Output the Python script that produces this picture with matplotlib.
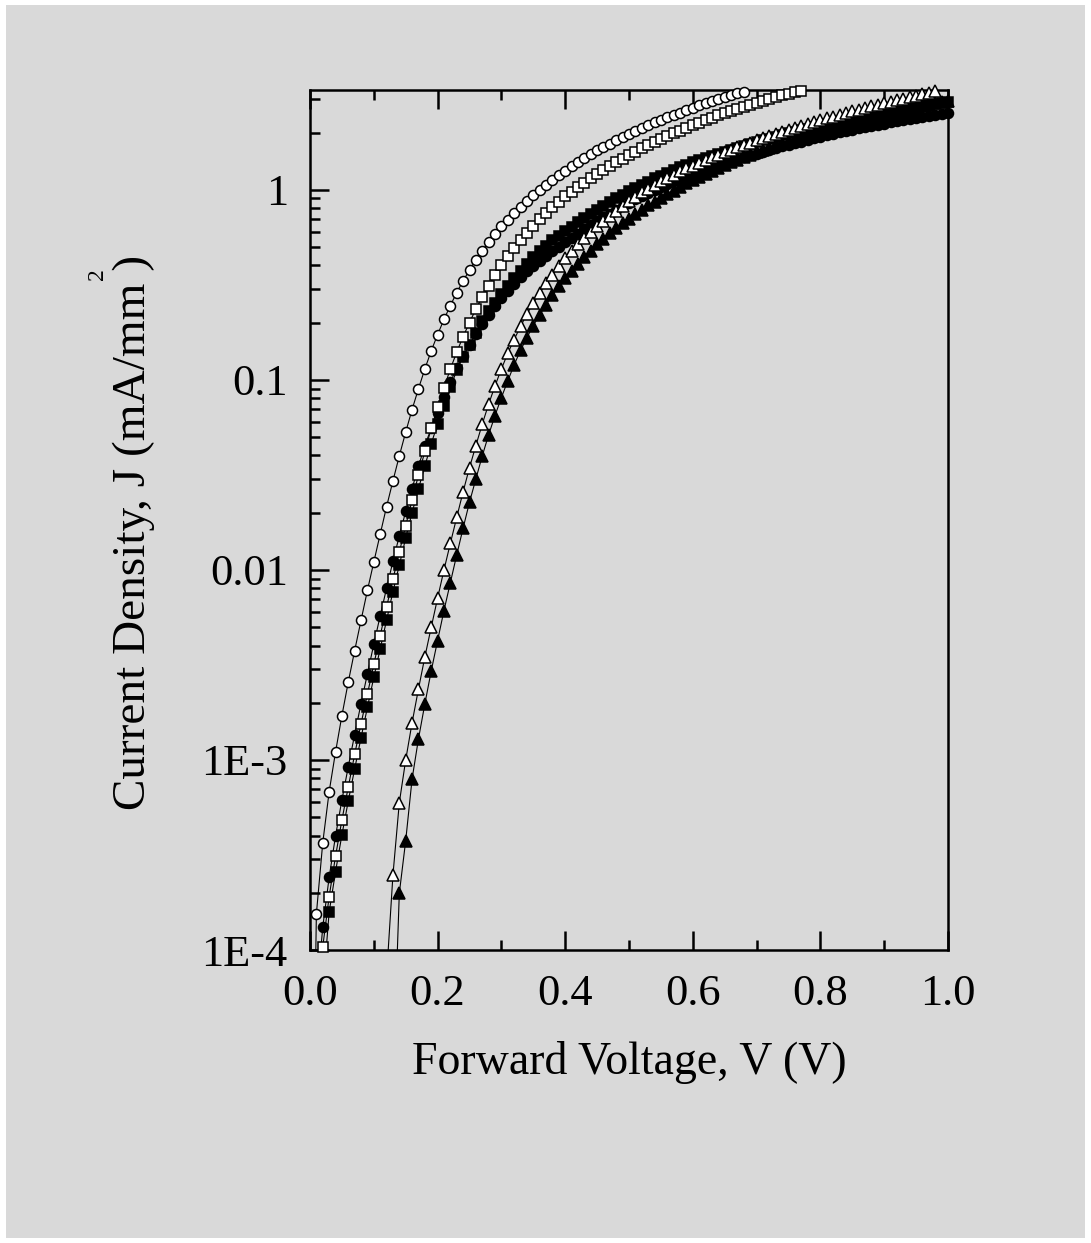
import numpy as np
import matplotlib.pyplot as plt
from matplotlib.patches import Rectangle
from matplotlib.ticker import MultipleLocator, LogLocator, NullFormatter, FormatStrFormatter

plt.rcParams['font.family'] = ['Liberation Serif', 'DejaVu Serif']

# forward voltage sweep (V)
volts = [0.00, 0.01, 0.02, 0.03, 0.04, 0.05, 0.06, 0.07, 0.08, 0.09,
         0.10, 0.11, 0.12, 0.13, 0.14, 0.15, 0.16, 0.17, 0.18, 0.19,
         0.20, 0.21, 0.22, 0.23, 0.24, 0.25, 0.26, 0.27, 0.28, 0.29,
         0.30, 0.31, 0.32, 0.33, 0.34, 0.35, 0.36, 0.37, 0.38, 0.39,
         0.40, 0.41, 0.42, 0.43, 0.44, 0.45, 0.46, 0.47, 0.48, 0.49,
         0.50, 0.51, 0.52, 0.53, 0.54, 0.55, 0.56, 0.57, 0.58, 0.59,
         0.60, 0.61, 0.62, 0.63, 0.64, 0.65, 0.66, 0.67, 0.68, 0.69,
         0.70, 0.71, 0.72, 0.73, 0.74, 0.75, 0.76, 0.77, 0.78, 0.79,
         0.80, 0.81, 0.82, 0.83, 0.84, 0.85, 0.86, 0.87, 0.88, 0.89,
         0.90, 0.91, 0.92, 0.93, 0.94, 0.95, 0.96, 0.97, 0.98, 0.99,
         1.00]

# current density (mA/mm^2), each curve starting at the voltage given below
j_open_circle = [1.0e-6, 1.55e-4, 3.67e-4, 6.8e-4, 1.10e-3, 1.71e-3, 2.57e-3, 3.76e-3, 5.43e-3, 7.8e-3,
                 0.0110, 0.0154, 0.0215, 0.0294, 0.0398, 0.0531, 0.0698, 0.0898, 0.114, 0.142,
                 0.173, 0.208, 0.246, 0.288, 0.332, 0.378, 0.429, 0.478, 0.531, 0.585,
                 0.641, 0.695, 0.753, 0.815, 0.875, 0.937, 1.00, 1.06, 1.13, 1.19,
                 1.26, 1.33, 1.40, 1.47, 1.54, 1.61, 1.68, 1.75, 1.83, 1.89,
                 1.97, 2.05, 2.11, 2.19, 2.26, 2.34, 2.41, 2.48, 2.55, 2.63,
                 2.70, 2.78, 2.86, 2.94, 3.01, 3.08, 3.15, 3.22, 3.28]

j_open_square = [4.5e-5, 1.04e-4, 1.91e-4, 3.11e-4, 4.83e-4, 7.21e-4, 1.07e-3, 1.55e-3, 2.22e-3,
                 3.18e-3, 4.51e-3, 6.37e-3, 8.93e-3, 0.0124, 0.0171, 0.0233, 0.0315, 0.0420, 0.0555,
                 0.0718, 0.0908, 0.114, 0.140, 0.169, 0.200, 0.236, 0.272, 0.313, 0.356,
                 0.403, 0.446, 0.493, 0.543, 0.591, 0.648, 0.702, 0.753, 0.807, 0.861,
                 0.922, 0.975, 1.03, 1.09, 1.15, 1.21, 1.27, 1.34, 1.40, 1.46,
                 1.53, 1.59, 1.66, 1.72, 1.78, 1.85, 1.92, 1.98, 2.05, 2.12,
                 2.19, 2.25, 2.33, 2.39, 2.46, 2.53, 2.60, 2.67, 2.73, 2.80,
                 2.87, 2.94, 3.01, 3.08, 3.14, 3.21, 3.27, 3.32]

j_filled_circle = [5.4e-5, 1.32e-4, 2.41e-4, 3.98e-4, 6.15e-4, 9.22e-4, 1.36e-3, 1.98e-3, 2.84e-3,
                   4.06e-3, 5.73e-3, 8.0e-3, 0.0111, 0.0151, 0.0203, 0.0268, 0.0350, 0.0451, 0.0555,
                   0.0673, 0.0817, 0.0975, 0.115, 0.134, 0.153, 0.174, 0.196, 0.220, 0.245,
                   0.270, 0.295, 0.321, 0.347, 0.372, 0.398, 0.424, 0.450, 0.475, 0.500,
                   0.529, 0.557, 0.588, 0.619, 0.651, 0.683, 0.716, 0.750, 0.785, 0.820,
                   0.854, 0.890, 0.927, 0.962, 0.999, 1.035, 1.071, 1.107, 1.143, 1.178,
                   1.212, 1.246, 1.280, 1.313, 1.347, 1.380, 1.414, 1.448, 1.482, 1.516,
                   1.550, 1.585, 1.620, 1.654, 1.690, 1.725, 1.759, 1.794, 1.829, 1.864,
                   1.899, 1.934, 1.968, 2.002, 2.036, 2.069, 2.103, 2.136, 2.169, 2.201,
                   2.232, 2.264, 2.295, 2.326, 2.355, 2.385, 2.413, 2.441, 2.468, 2.495,
                   2.521]

j_filled_square = [6.0e-5, 1.58e-4, 2.58e-4, 4.03e-4, 6.08e-4, 8.97e-4, 1.31e-3, 1.89e-3,
                   2.72e-3, 3.84e-3, 5.43e-3, 7.69e-3, 0.0106, 0.0147, 0.0200, 0.0267, 0.0352, 0.0460,
                   0.0587, 0.0730, 0.0915, 0.112, 0.132, 0.153, 0.176, 0.203, 0.229, 0.255,
                   0.283, 0.313, 0.344, 0.376, 0.408, 0.442, 0.475, 0.509, 0.542, 0.574,
                   0.607, 0.640, 0.675, 0.711, 0.747, 0.784, 0.822, 0.861, 0.901, 0.941,
                   0.981, 1.022, 1.064, 1.105, 1.147, 1.188, 1.230, 1.271, 1.312, 1.352,
                   1.392, 1.431, 1.470, 1.508, 1.546, 1.584, 1.623, 1.662, 1.701, 1.740,
                   1.780, 1.820, 1.860, 1.899, 1.940, 1.980, 2.020, 2.060, 2.100, 2.140,
                   2.180, 2.220, 2.259, 2.298, 2.337, 2.376, 2.414, 2.452, 2.490, 2.527,
                   2.563, 2.599, 2.635, 2.670, 2.704, 2.738, 2.770, 2.803, 2.834, 2.864,
                   2.894]

j_open_triangle = [7.3e-5, 2.48e-4, 5.96e-4, 1.00e-3, 1.57e-3, 2.36e-3, 3.48e-3, 4.99e-3,
                   7.1e-3, 0.0100, 0.0138, 0.0189, 0.0258, 0.0345, 0.0451, 0.0585, 0.0745, 0.093,
                   0.114, 0.138, 0.163, 0.191, 0.222, 0.253, 0.286, 0.323, 0.357, 0.395,
                   0.437, 0.477, 0.518, 0.557, 0.599, 0.641, 0.684, 0.729, 0.778, 0.824,
                   0.873, 0.916, 0.968, 1.01, 1.06, 1.11, 1.15, 1.20, 1.25, 1.30,
                   1.34, 1.387, 1.434, 1.482, 1.529, 1.577, 1.626, 1.674, 1.723, 1.772,
                   1.821, 1.870, 1.920, 1.970, 2.020, 2.071, 2.121, 2.172, 2.223, 2.275,
                   2.326, 2.378, 2.430, 2.483, 2.535, 2.588, 2.641, 2.694, 2.748, 2.802,
                   2.856, 2.910, 2.965, 3.019, 3.074, 3.130, 3.185, 3.241, 3.297]

j_filled_triangle = [2.1e-5, 1.99e-4, 3.76e-4, 7.94e-4, 1.29e-3, 1.97e-3, 2.94e-3,
                     4.25e-3, 6.11e-3, 8.57e-3, 0.0120, 0.0166, 0.0227, 0.0301, 0.0398, 0.0514, 0.0649,
                     0.0807, 0.0988, 0.120, 0.143, 0.167, 0.193, 0.220, 0.248, 0.280, 0.310,
                     0.343, 0.375, 0.408, 0.442, 0.479, 0.518, 0.554, 0.592, 0.631, 0.668,
                     0.706, 0.748, 0.785, 0.827, 0.867, 0.908, 0.949, 0.990, 1.03, 1.08,
                     1.12, 1.17, 1.215, 1.260, 1.305, 1.351, 1.396, 1.441, 1.486, 1.532,
                     1.577, 1.623, 1.668, 1.713, 1.758, 1.804, 1.849, 1.894, 1.940, 1.985,
                     2.030, 2.075, 2.121, 2.166, 2.211, 2.256, 2.301, 2.347, 2.392, 2.437,
                     2.483, 2.528, 2.573, 2.619, 2.664, 2.709, 2.754, 2.800, 2.845, 2.890,
                     2.935]

# (current, first voltage index, marker, face colour, marker size), back to front
curves = [
    (j_filled_circle, 1, 'o', 'black', 7.2),
    (j_filled_square, 2, 's', 'black', 6.6),
    (j_open_square, 1, 's', 'white', 6.6),
    (j_open_circle, 0, 'o', 'white', 7.2),
    (j_filled_triangle, 13, '^', 'black', 8.2),
    (j_open_triangle, 12, '^', 'white', 8.2),
]

fig = plt.figure(figsize=(10.91, 12.43), dpi=100)
fig.patch.set_facecolor('white')
fig.patches.append(Rectangle((6 / 1091, 5 / 1243), 1079 / 1091, 1233 / 1243,
                             transform=fig.transFigure, facecolor='#d9d9d9',
                             edgecolor='none', zorder=-10))

ax = fig.add_axes([310 / 1091, 1 - 950 / 1243, 638 / 1091, 860 / 1243])
ax.set_facecolor('none')
ax.set_zorder(1)

ymin, ymax = 1e-4, 3.35
for k, (j, i0, mk, fc, ms) in enumerate(curves):
    v = np.array(volts[i0:i0 + len(j)])
    j = np.array(j)
    ax.plot(v, j, color='black', lw=0.8, zorder=2 + 2 * k)
    shown = j >= ymin * 0.98
    ax.plot(v[shown], j[shown], ls='none', marker=mk, ms=ms, mfc=fc,
            mec='black', mew=1.1, zorder=3 + 2 * k, clip_on=False)

ax.set_yscale('log')
ax.set_xlim(0, 1.0)
ax.set_ylim(ymin, ymax)

ax.xaxis.set_major_locator(MultipleLocator(0.2))
ax.xaxis.set_minor_locator(MultipleLocator(0.1))
ax.xaxis.set_major_formatter(FormatStrFormatter('%.1f'))
ax.set_yticks([1e-4, 1e-3, 1e-2, 1e-1, 1])
ax.set_yticklabels(['1E-4', '1E-3', '0.01', '0.1', '1'])
ax.yaxis.set_minor_locator(LogLocator(base=10, subs=np.arange(2, 10)))
ax.yaxis.set_minor_formatter(NullFormatter())

ax.tick_params(which='both', direction='in', top=True, right=False,
               width=1.8, labelsize=32, color='black')
ax.tick_params(which='major', length=13.5)
ax.tick_params(which='minor', length=7)
ax.tick_params(axis='x', which='major', pad=17)
ax.tick_params(axis='y', which='major', pad=16)
for s in ax.spines.values():
    s.set_linewidth(1.8)

fig.text(629 / 1091, 1 - 1062 / 1243, 'Forward Voltage, V (V)',
         ha='center', va='center', fontsize=33)
fig.text(134 / 1091, 1 - 532 / 1243, 'Current Density, J (mA/mm )',
         ha='center', va='center', rotation=90, fontsize=34)
fig.text(97 / 1091, 1 - 274 / 1243, '2', ha='center', va='center',
         rotation=90, fontsize=17)

fig.savefig('out.png', dpi=100, facecolor=fig.get_facecolor())
